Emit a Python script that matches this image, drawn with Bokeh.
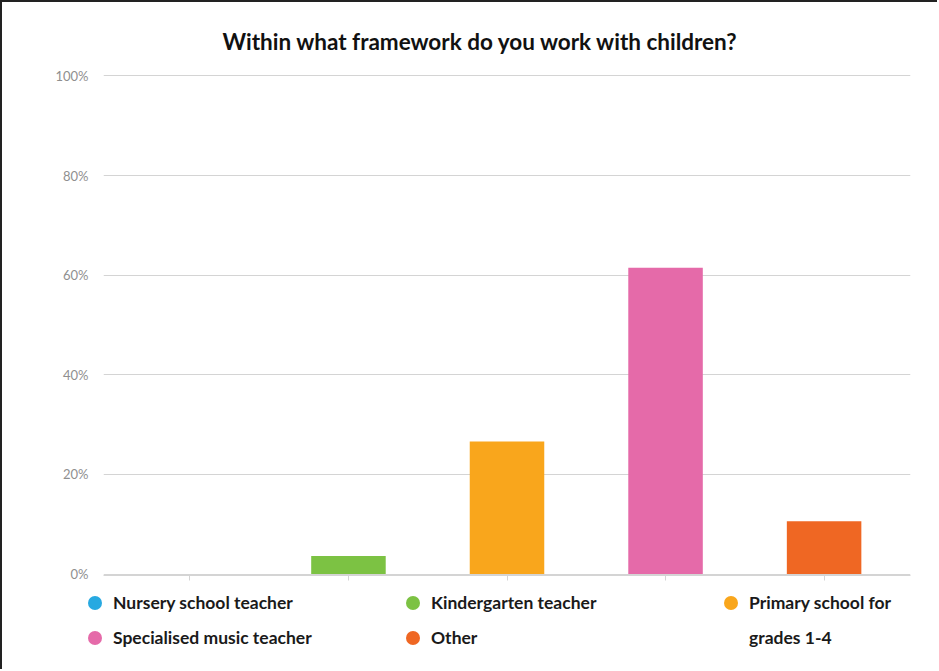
from bokeh.plotting import figure
from bokeh.layouts import column
from bokeh.models import (Legend, LegendItem, FixedTicker, ColumnDataSource,
                          Range1d, FactorRange)
from bokeh.embed import file_html
from bokeh.resources import INLINE

# ---- data ----
categories = ["Nursery school teacher", "Kindergarten teacher",
              "Primary school for grades 1-4", "Specialised music teacher", "Other"]
values = [0, 3.6, 26.6, 61.5, 10.6]
colors = ["#27a9e1", "#7cc243", "#f9a61c", "#e56aa9", "#ef6723"]
y_ticks = [0, 20, 40, 60, 80, 100]
title_text = "Within what framework do you work with children?"

# legend entries in grid order (filled column by column: 3 columns x 2 rows)
legend_labels = ["Nursery school teacher", "Specialised music teacher",
                 "Kindergarten teacher", "Other",
                 "Primary school for", "grades 1-4"]
legend_colors = ["#27a9e1", "#e56aa9", "#7cc243", "#ef6723", "#f9a61c", None]

FONT = "Lato"

source = ColumnDataSource(dict(cat=categories, val=values, color=colors))

p = figure(width=935, height=583, output_backend="svg", toolbar_location=None,
           x_range=FactorRange(*categories, range_padding=0.018),
           y_range=Range1d(-0.3, 100.3),
           min_border_left=101, min_border_right=27, min_border_top=72,
           min_border_bottom=10, title=title_text, frame_align=False)

p.title.align = "left"
p.title.offset = 119
p.title.text_font = FONT
p.title.text_font_size = "22.5px"
p.title.text_font_style = "bold"
p.title.text_color = "#111111"
p.title.standoff = 40

p.vbar(x="cat", top="val", width=0.47, fill_color="color", line_color=None, source=source)

# axes
p.yaxis.ticker = FixedTicker(ticks=y_ticks)
p.yaxis.major_label_overrides = {t: f"{t}%" for t in y_ticks}
p.yaxis.axis_line_color = None
p.yaxis.major_tick_line_color = None
p.yaxis.minor_tick_line_color = None
p.yaxis.major_label_text_font = FONT
p.yaxis.major_label_text_font_size = "13px"
p.yaxis.major_label_text_color = "#8f8f8f"
p.yaxis.major_label_standoff = 9

p.xaxis.axis_line_color = "#d4d4d4"
p.xaxis.major_tick_line_color = "#d4d4d4"
p.xaxis.major_tick_in = 0
p.xaxis.major_tick_out = 5
p.xaxis.major_label_text_font_size = "0px"
p.xaxis.major_label_text_color = None
p.xaxis.major_label_standoff = 0

p.xgrid.grid_line_color = None
p.ygrid.grid_line_color = "#d4d4d4"
p.outline_line_color = None

# legend figure (circle markers), placed below the chart
lf = figure(width=935, height=84, output_backend="svg", toolbar_location=None,
            x_range=Range1d(0, 1), y_range=Range1d(0, 1),
            x_axis_type=None, y_axis_type=None,
            min_border_left=75, min_border_right=0, min_border_top=0,
            min_border_bottom=0, outline_line_color=None, frame_align=False)
lf.grid.visible = False

nan = float("nan")
items = []
for lab, col in zip(legend_labels, legend_colors):
    r = lf.scatter(x=[nan], y=[nan], marker="circle", size=14,
                   fill_color=col if col else "white",
                   fill_alpha=1 if col else 0, line_color=None)
    items.append(LegendItem(label=lab, renderers=[r]))

legend = Legend(items=items, ncols=3, location="top_left",
                glyph_width=35, glyph_height=35, label_standoff=1,
                label_width=282, spacing=0, padding=0, margin=0,
                label_text_font=FONT, label_text_font_size="17.5px",
                label_text_font_style="bold", label_text_color="#1a1a1a",
                border_line_color=None, background_fill_alpha=0)
lf.add_layout(legend, "center")

layout = column(p, lf, spacing=0,
                styles={"border-top": "2px solid #222", "border-left": "2px solid #222"})

open("out.html", "w").write(file_html(layout, INLINE))
